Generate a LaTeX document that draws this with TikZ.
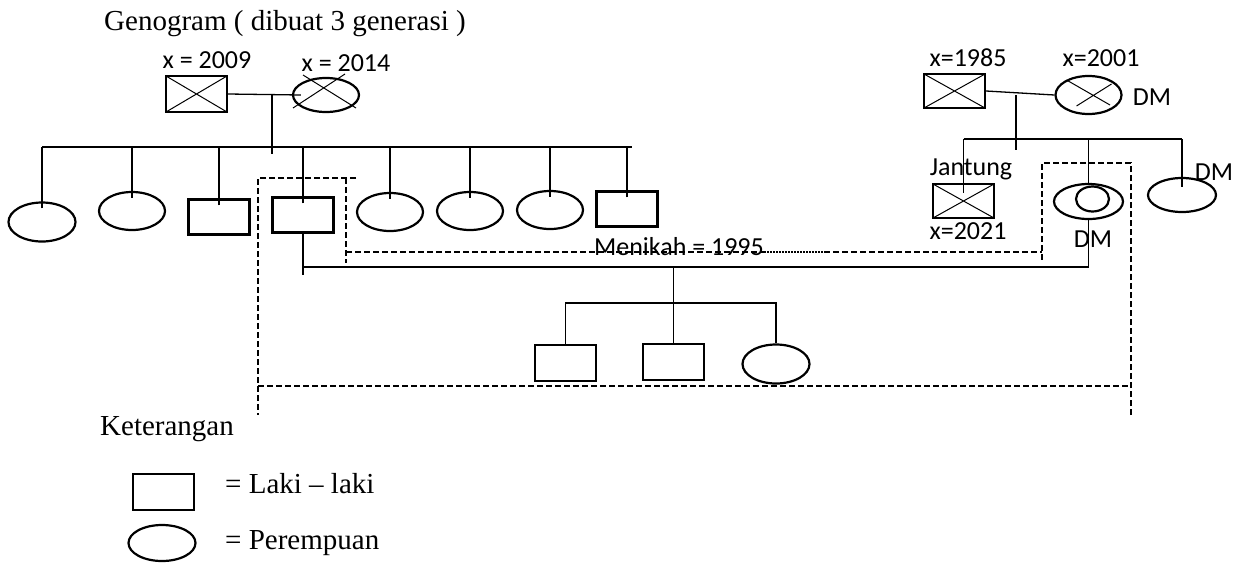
\documentclass[tikz,border=0pt]{standalone}
\usepackage{fontspec}
\setmainfont{Liberation Serif}
\newfontfamily\lblfont{Carlito}
\usetikzlibrary{positioning,shapes.geometric}

\tikzset{
  man/.style={draw, rectangle, line width=2.2pt, minimum width=61pt, minimum height=35pt, inner sep=0pt},
  woman/.style={draw, ellipse, line width=2.2pt, minimum width=66pt, minimum height=38pt, inner sep=0pt},
  dead/.style={path picture={\draw[line width=1pt] (path picture bounding box.north west) -- (path picture bounding box.south east)
      (path picture bounding box.south west) -- (path picture bounding box.north east);}},
  lbl/.style={font=\lblfont\fontsize{26}{30}\selectfont, inner sep=0pt, anchor=base},
  txt/.style={font=\fontsize{29}{33}\selectfont, inner sep=0pt, anchor=base west},
  grp/.style={line width=1.1pt, dash pattern=on 6pt off 3pt},
  link/.style={line width=1.3pt},
}

\begin{document}
\begin{tikzpicture}[x=1pt, y=-1pt]
\useasboundingbox (0,0) rectangle (1249,563);

\node[txt] (title) at (104,30) {Genogram ( dibuat 3 generasi )};

% kakek nenek dari ayah
\node[man, dead, minimum height=36pt] (gf1) at (196.5,94) {};
\node[woman, minimum height=34pt] (gm1) at (326,95) {};
\draw[line width=1pt] ([shift={(-23,-20)}]gm1.center) -- ([shift={(30,13)}]gm1.center)
    ([shift={(-33,13)}]gm1.center) -- ([shift={(19,-21)}]gm1.center);
\node[lbl] (lgf1) at (207,68) {x = 2009};
\node[lbl] (lgm1) at (346,71) {x = 2014};
\coordinate (m1) at (272,95);
\coordinate (sib) at (0,147);
\draw[link] (gf1.east) -- ([xshift=9pt]gm1.west);

% saudara ayah
\node[woman, minimum width=67pt, minimum height=39pt] (c1) at (42,222) {};
\node[woman] (c2) at (132,211) {};
\node[man] (c3) at (219,217) {};
\node[man] (c4) at (303,215) {};
\node[woman] (c5) at (390,212) {};
\node[woman] (c6) at (470,211) {};
\node[woman] (c7) at (550,210) {};
\node[man] (c8) at (627,209) {};
\draw[link] (m1) -- (m1 |- sib) -- ++(0,7);
\draw[link] (c1.north |- sib) -- ([xshift=5pt]c8.north |- sib);
\foreach \i in {1,...,8}
    \draw[link] ([yshift=-7pt]c\i.north) -- (c\i.north |- sib);

% kakek nenek dari ibu
\node[man, dead, minimum height=34pt] (gf2) at (954.5,91) {};
\node[woman] (gm2) at (1088.5,95) {};
\draw[line width=1pt] ([shift={(-22,-15)}]gm2.center) -- ([shift={(21.5,10)}]gm2.center)
    ([shift={(-12,11)}]gm2.center) -- ([shift={(23,-11)}]gm2.center);
\node[lbl] (lgf2) at (968,66) {x=1985};
\node[lbl] (lgm2) at (1101,66) {x=2001};
\node[lbl] (dm1) at (1152,105) {DM};
\coordinate (m2) at (1016,95);
\coordinate (sib2) at (0,139);
\draw[link] (gf2.east) -- (gm2.west);

% saudara ibu
\node[man, dead, minimum height=34pt] (u1) at (963.5,201) {};
\node[woman, minimum width=69pt, minimum height=35pt] (mom) at (1088.5,201.5) {};
\node[woman, minimum width=33pt, minimum height=25pt] (momin) at (1092.5,199) {};
\node[woman, minimum width=68pt, minimum height=34pt] (aunt) at (1182,195) {};
\node[lbl] (jan) at (971,175) {Jantung};
\node[lbl] (lu1) at (968,239) {x=2021};
\node[lbl] (dm2) at (1093,247) {DM};
\node[lbl] (dm3) at (1214,180) {DM};
\draw[link] (m2) -- (m2 |- sib2) -- ++(0,11);
\draw[link] (u1.north |- sib2) -- (aunt.north |- sib2);
\draw[link] (u1.north |- sib2) -- ([yshift=-10pt]u1.north);
\draw[link] (mom.north |- sib2) -- (mom.north |- momin.north);
\draw[link] (aunt.north |- sib2) -- ([yshift=-10pt]aunt.north);

% pernikahan dan anak
\coordinate (mar) at (673.5,267);
\coordinate (kid) at (0,303);
\node[man, minimum height=36pt] (k1) at (565.5,363) {};
\node[man, minimum height=36pt] (k2) at (673.5,362) {};
\node[woman, minimum width=67pt, minimum height=39pt] (k3) at (776,364) {};
\draw[link] (c4.south) -- ([yshift=-8pt]c4.south |- mar);
\draw[link] (c4.south |- mar) -- (mom.south |- mar) -- (mom.south);
\draw[link] (mar) -- (k2.north);
\draw[link] (k1.north) |- (k2.north |- kid) -| (k3.north);

% garis putus-putus
\draw[grp] (356,178) -- (258,178) -- (258,415);
\draw[grp] (346,178) -- (346,263);
\draw[grp] (258,386) -- (1131,386);
\draw[grp] (1131,415) -- (1131,163) -- (1042,163) -- (1042,262);
\draw[grp] (346,252) -- (764,252);
\draw[grp, dash pattern=on 1.5pt off 1.5pt] (764,252) -- (824,252);
\draw[grp] (824,252) -- (1042,252);
\node[lbl] (nikah) at (679,255) {Menikah = 1995};

% keterangan
\node[txt] (ket) at (100,435) {Keterangan};
\node[man, minimum height=36pt] (lsq) at (163.5,492) {};
\node[woman, minimum width=67pt, minimum height=36pt] (lel) at (162,543) {};
\node[txt] (lman) at (225,493) {= Laki -- laki};
\node[txt] (lwoman) at (225,549) {= Perempuan};
\end{tikzpicture}
\end{document}
